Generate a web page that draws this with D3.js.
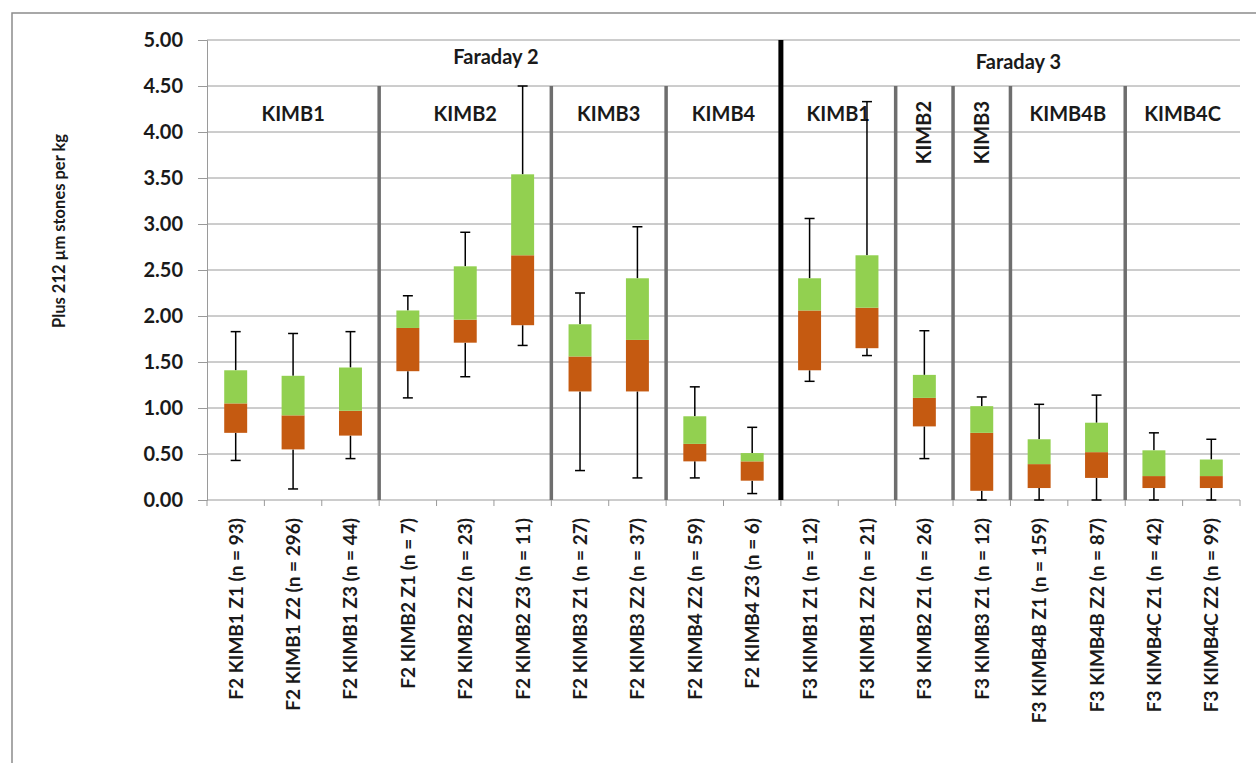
<!DOCTYPE html>
<html>
<head>
<meta charset="utf-8">
<script src="https://cdn.jsdelivr.net/npm/d3@7"></script>
<style>
  html, body { margin: 0; padding: 0; background: #ffffff; }
  svg { display: block; }
  text { font-family: Lato, "Open Sans", sans-serif; font-weight: 700; fill: #1a1a1a; }
</style>
</head>
<body>
<svg id="chart" width="1256" height="763"></svg>
<script>
// Sample labels (one box per zone sample)
const categories = [
  "F2 KIMB1 Z1 (n = 93)", "F2 KIMB1 Z2 (n = 296)", "F2 KIMB1 Z3 (n = 44)",
  "F2 KIMB2 Z1 (n = 7)", "F2 KIMB2 Z2 (n = 23)", "F2 KIMB2 Z3 (n = 11)",
  "F2 KIMB3 Z1 (n = 27)", "F2 KIMB3 Z2 (n = 37)",
  "F2 KIMB4 Z2 (n = 59)", "F2 KIMB4 Z3 (n = 6)",
  "F3 KIMB1 Z1 (n = 12)", "F3 KIMB1 Z2 (n = 21)",
  "F3 KIMB2 Z1 (n = 26)", "F3 KIMB3 Z1 (n = 12)",
  "F3 KIMB4B Z1 (n = 159)", "F3 KIMB4B Z2 (n = 87)",
  "F3 KIMB4C Z1 (n = 42)", "F3 KIMB4C Z2 (n = 99)"
];

// Box-plot statistics, stones per kg
const minValues    = [0.43, 0.12, 0.45, 1.11, 1.34, 1.68, 0.32, 0.24, 0.24, 0.07, 1.29, 1.57, 0.45, 0.00, 0.00, 0.00, 0.00, 0.00];
const q1Values     = [0.73, 0.55, 0.70, 1.40, 1.71, 1.90, 1.18, 1.18, 0.42, 0.21, 1.41, 1.65, 0.80, 0.10, 0.13, 0.24, 0.13, 0.13];
const medianValues = [1.05, 0.92, 0.97, 1.87, 1.96, 2.66, 1.56, 1.74, 0.61, 0.42, 2.06, 2.09, 1.11, 0.73, 0.39, 0.52, 0.26, 0.26];
const q3Values     = [1.41, 1.35, 1.44, 2.06, 2.54, 3.54, 1.91, 2.41, 0.91, 0.51, 2.41, 2.66, 1.36, 1.02, 0.66, 0.84, 0.54, 0.44];
const maxValues    = [1.83, 1.81, 1.83, 2.22, 2.91, 4.50, 2.25, 2.97, 1.23, 0.79, 3.06, 4.33, 1.84, 1.12, 1.04, 1.14, 0.73, 0.66];

// Grouping of the samples
const fieldNames = ["Faraday 2", "Faraday 3"];
const fieldSizes = [10, 8];
const kimberliteNames = ["KIMB1", "KIMB2", "KIMB3", "KIMB4", "KIMB1", "KIMB2", "KIMB3", "KIMB4B", "KIMB4C"];
const kimberliteSizes = [3, 3, 2, 2, 2, 1, 1, 2, 2];

const yTicks = [0, 0.5, 1, 1.5, 2, 2.5, 3, 3.5, 4, 4.5, 5];
const yTitle = "Plus 212 \u00b5m stones per kg";

const svg = d3.select("#chart");

const plotLeft = 207, plotRight = 1240, plotTop = 40, plotBottom = 500;

const x = d3.scaleBand().domain(categories).range([plotLeft, plotRight]).paddingInner(0).paddingOuter(0);
const y = d3.scaleLinear().domain([0, 5]).range([plotBottom, plotTop]);
const bw = x.bandwidth();
const boxW = bw * 0.4;
const capW = 10;

// outer chart frame
svg.append("rect")
  .attr("x", 12).attr("y", 13)
  .attr("width", 1300).attr("height", 800)
  .attr("fill", "none").attr("stroke", "#8c8c8c").attr("stroke-width", 1.5);

// horizontal gridlines
svg.append("g").selectAll("line").data(yTicks).join("line")
  .attr("x1", plotLeft).attr("x2", plotRight)
  .attr("y1", d => y(d)).attr("y2", d => y(d))
  .attr("stroke", "#9a9a9a").attr("stroke-width", 1);

// value axis
const yAxis = svg.append("g")
  .attr("transform", `translate(${plotLeft},0)`)
  .call(d3.axisLeft(y).tickValues(yTicks).tickFormat(d3.format(".2f")).tickSize(9).tickPadding(15));
yAxis.select(".domain").attr("stroke", "#9a9a9a");
yAxis.selectAll(".tick line").attr("stroke", "#9a9a9a");
yAxis.selectAll(".tick text")
  .style("font-family", "Lato, sans-serif").style("font-weight", 700)
  .style("font-size", "20px").attr("fill", "#1a1a1a");

// category axis tick marks at band boundaries
const boundaries = categories.map(c => x(c)).concat([plotRight]);
svg.append("g").selectAll("line").data(boundaries).join("line")
  .attr("x1", d => d).attr("x2", d => d)
  .attr("y1", plotBottom).attr("y2", plotBottom + 6)
  .attr("stroke", "#9a9a9a").attr("stroke-width", 1);

// category labels, rotated
svg.append("g").selectAll("text").data(categories).join("text")
  .attr("transform", d => `translate(${x(d) + bw / 2 + 7},${plotBottom + 18}) rotate(-90)`)
  .attr("text-anchor", "end")
  .style("font-size", "19px")
  .text(d => d);

// kimberlite and field separators
const fieldStarts = [0];
fieldSizes.reduce((acc, s) => { fieldStarts.push(acc + s); return acc + s; }, 0);
const separators = [];
let idx = 0;
kimberliteSizes.forEach((s, i) => {
  if (i > 0) separators.push({ pos: idx, major: fieldStarts.includes(idx) });
  idx += s;
});
svg.append("g").selectAll("line").data(separators).join("line")
  .attr("x1", d => x(categories[d.pos])).attr("x2", d => x(categories[d.pos]))
  .attr("y1", d => d.major ? y(5) : y(4.5)).attr("y2", y(0))
  .attr("stroke", d => d.major ? "#000000" : "#6e6e6e")
  .attr("stroke-width", d => d.major ? 5 : 3.5);

// kimberlite labels
let start = 0;
const kimbGroups = kimberliteNames.map((name, i) => {
  const g = { name, first: start, last: start + kimberliteSizes[i] - 1 };
  start += kimberliteSizes[i];
  return g;
});
const kimbLayer = svg.append("g");
kimbGroups.forEach(g => {
  const x0 = x(categories[g.first]);
  const x1 = x(categories[g.last]) + bw;
  const cx = (x0 + x1) / 2;
  if (g.first === g.last) {
    kimbLayer.append("text")
      .attr("transform", `translate(${cx + 7},${y(4.5) + 15}) rotate(-90)`)
      .attr("text-anchor", "end")
      .style("font-size", "20px")
      .text(g.name);
  } else {
    kimbLayer.append("text")
      .attr("x", cx).attr("y", 121)
      .attr("text-anchor", "middle")
      .style("font-size", "20px")
      .text(g.name);
  }
});

// field labels
let fStart = 0;
const fieldBaselines = [64, 69];
fieldNames.forEach((name, i) => {
  const x0 = x(categories[fStart]);
  const x1 = x(categories[fStart + fieldSizes[i] - 1]) + bw;
  svg.append("text")
    .attr("x", (x0 + x1) / 2 + (i === 1 ? 8 : 2)).attr("y", fieldBaselines[i])
    .attr("text-anchor", "middle")
    .style("font-size", "20px")
    .text(name);
  fStart += fieldSizes[i];
});

// value axis title
svg.append("text")
  .attr("transform", `translate(65,231) rotate(-90)`)
  .attr("text-anchor", "middle")
  .style("font-size", "16.5px")
  .text(yTitle);

// box plots
const stats = categories.map((c, i) => ({
  c, min: minValues[i], q1: q1Values[i], med: medianValues[i], q3: q3Values[i], max: maxValues[i]
}));
const boxes = svg.append("g").selectAll("g").data(stats).join("g")
  .attr("transform", d => `translate(${x(d.c) + bw / 2},0)`);

// whiskers
boxes.append("line")
  .attr("x1", 0).attr("x2", 0)
  .attr("y1", d => y(d.q3)).attr("y2", d => y(d.max))
  .attr("stroke", "#000").attr("stroke-width", 1.5);
boxes.append("line")
  .attr("x1", 0).attr("x2", 0)
  .attr("y1", d => y(d.q1)).attr("y2", d => y(d.min))
  .attr("stroke", "#000").attr("stroke-width", 1.5);
boxes.append("line")
  .attr("x1", -capW / 2).attr("x2", capW / 2)
  .attr("y1", d => y(d.max)).attr("y2", d => y(d.max))
  .attr("stroke", "#000").attr("stroke-width", 1.5);
boxes.append("line")
  .attr("x1", -capW / 2).attr("x2", capW / 2)
  .attr("y1", d => y(d.min)).attr("y2", d => y(d.min))
  .attr("stroke", "#000").attr("stroke-width", 1.5);

// lower box (Q1 to median) and upper box (median to Q3)
boxes.append("rect")
  .attr("x", -boxW / 2).attr("width", boxW)
  .attr("y", d => y(d.med)).attr("height", d => y(d.q1) - y(d.med))
  .attr("fill", "#c55a11");
boxes.append("rect")
  .attr("x", -boxW / 2).attr("width", boxW)
  .attr("y", d => y(d.q3)).attr("height", d => y(d.med) - y(d.q3))
  .attr("fill", "#92d050");
</script>
</body>
</html>
